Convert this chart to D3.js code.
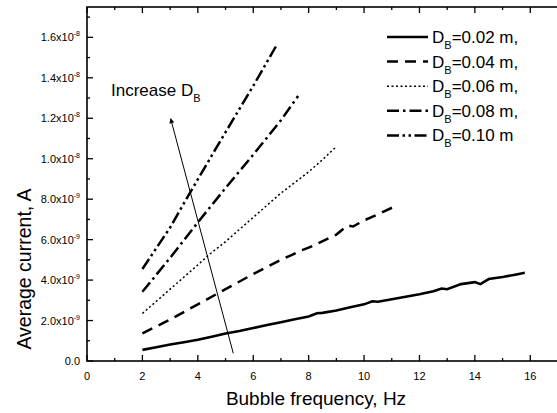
<!DOCTYPE html>
<html>
<head>
<meta charset="utf-8">
<script src="https://cdn.jsdelivr.net/npm/d3@7"></script>
<style>
  body { margin: 0; background: #fff; }
  text { font-family: "Liberation Sans", Arial, sans-serif; fill: #000; }
</style>
</head>
<body>
<svg id="chart"></svg>
<script>
// bubble frequency (Hz) and average current (A)
var labels = ["0.02 m,", "0.04 m,", "0.06 m,", "0.08 m,", "0.10 m"];

var freq1 = [2, 2.5, 3, 3.5, 4, 4.5, 5, 5.5, 6, 6.5, 7, 7.5, 8, 8.3, 8.5, 9, 9.5, 10, 10.3, 10.5, 11, 11.5, 12, 12.5, 12.8, 13, 13.5, 14, 14.2, 14.5, 15, 15.5, 15.8];
var curr1 = [0.55e-9, 0.68e-9, 0.82e-9, 0.93e-9, 1.05e-9, 1.2e-9, 1.36e-9, 1.48e-9, 1.63e-9, 1.78e-9, 1.92e-9, 2.06e-9, 2.2e-9, 2.36e-9, 2.38e-9, 2.5e-9, 2.66e-9, 2.8e-9, 2.95e-9, 2.93e-9, 3.05e-9, 3.18e-9, 3.3e-9, 3.45e-9, 3.58e-9, 3.55e-9, 3.8e-9, 3.9e-9, 3.8e-9, 4.05e-9, 4.15e-9, 4.28e-9, 4.36e-9];

var freq2 = [2, 3, 4, 5, 6, 7, 7.4, 7.7, 8, 9, 9.4, 9.6, 10, 10.5, 11.2];
var curr2 = [1.37e-9, 2.05e-9, 2.8e-9, 3.55e-9, 4.3e-9, 5.0e-9, 5.25e-9, 5.45e-9, 5.6e-9, 6.25e-9, 6.7e-9, 6.65e-9, 6.95e-9, 7.25e-9, 7.7e-9];

var freq3 = [2, 3, 4, 4.4, 5, 5.5, 6, 7, 8, 8.5, 9];
var curr3 = [2.35e-9, 3.55e-9, 4.75e-9, 5.25e-9, 5.9e-9, 6.5e-9, 7.1e-9, 8.3e-9, 9.35e-9, 9.95e-9, 10.6e-9];

var freq4 = [2, 3, 4, 5, 6, 7, 7.62];
var curr4 = [3.42e-9, 5.1e-9, 6.85e-9, 8.55e-9, 10.2e-9, 11.9e-9, 13.1e-9];

var freq5 = [2, 3, 3.7, 4.8, 6, 6.86];
var curr5 = [4.55e-9, 6.6e-9, 8.28e-9, 10.85e-9, 13.6e-9, 15.65e-9];

var xTicks = [0, 2, 4, 6, 8, 10, 12, 14, 16];
var yTicks = [0, 2e-9, 4e-9, 6e-9, 8e-9, 1.0e-8, 1.2e-8, 1.4e-8, 1.6e-8];

// arrow "Increase D_B" in data coordinates (tail, head)
var arrowFreq = [5.28, 3.02];
var arrowCurr = [0.38e-9, 1.198e-8];

var width = 557, height = 413;
var svg = d3.select("#chart").attr("width", width).attr("height", height);

var x = d3.scaleLinear().domain([0, 17]).range([87, 558]);
var y = d3.scaleLinear().domain([0, 1.75e-8]).range([361, 7]);

var series = [
    { f: freq1, c: curr1, dash: null, w: 2.6 },
    { f: freq2, c: curr2, dash: "11,7", w: 2.5 },
    { f: freq3, c: curr3, dash: "2,2.5", w: 1.5 },
    { f: freq4, c: curr4, dash: "12,4,2.5,4", w: 2.5 },
    { f: freq5, c: curr5, dash: "12,3.5,2.5,3.5,2.5,3.5", w: 2.5 }
];

var line = d3.line()
    .x(function (d) { return x(d[0]); })
    .y(function (d) { return y(d[1]); });

series.forEach(function (s) {
    var pts = s.f.map(function (f, i) { return [f, s.c[i]]; });
    svg.append("path")
        .attr("d", line(pts))
        .attr("fill", "none")
        .attr("stroke", "#000")
        .attr("stroke-width", s.w)
        .attr("stroke-dasharray", s.dash);
});

// frame with inward ticks
var frame = svg.append("g");
frame.append("rect")
    .attr("x", x(0)).attr("y", y(1.75e-8))
    .attr("width", x(17) - x(0)).attr("height", y(0) - y(1.75e-8))
    .attr("fill", "none").attr("stroke", "#000").attr("stroke-width", 1.6);

var xMinor = d3.range(0, 18, 1);
var yMinor = d3.range(0, 18).map(function (i) { return i * 1e-9; });

xMinor.forEach(function (v) {
    var len = v % 2 === 0 ? 6 : 3;
    frame.append("line").attr("x1", x(v)).attr("x2", x(v))
        .attr("y1", y(0)).attr("y2", y(0) - len)
        .attr("stroke", "#000").attr("stroke-width", 1.3);
    frame.append("line").attr("x1", x(v)).attr("x2", x(v))
        .attr("y1", y(1.75e-8)).attr("y2", y(1.75e-8) + len)
        .attr("stroke", "#000").attr("stroke-width", 1.3);
});
yMinor.forEach(function (v, i) {
    var len = i % 2 === 0 ? 6 : 3;
    frame.append("line").attr("x1", x(0)).attr("x2", x(0) + len)
        .attr("y1", y(v)).attr("y2", y(v))
        .attr("stroke", "#000").attr("stroke-width", 1.3);
});

// x tick labels
svg.append("g").selectAll("text")
    .data(xTicks)
    .join("text")
    .attr("x", function (d) { return x(d); })
    .attr("y", 380)
    .attr("text-anchor", "middle")
    .attr("font-size", 11)
    .text(function (d) { return d; });

// y tick labels, 1.6x10^-8 style
var yLab = svg.append("g").selectAll("text")
    .data(yTicks)
    .join("text")
    .attr("x", 80)
    .attr("y", function (d) { return y(d) + 4; })
    .attr("text-anchor", "end")
    .attr("font-size", 11);

yLab.each(function (d) {
    var t = d3.select(this);
    if (d === 0) { t.text("0.0"); return; }
    var e = Math.floor(Math.log10(d) + 1e-9);
    var m = (d / Math.pow(10, e)).toFixed(1);
    t.append("tspan").text(m + "x10");
    t.append("tspan").attr("font-size", 7).attr("dy", -5).text(e);
});

// axis titles
svg.append("text")
    .attr("x", 316).attr("y", 405)
    .attr("text-anchor", "middle")
    .attr("font-size", 19)
    .text("Bubble frequency, Hz");

svg.append("text")
    .attr("transform", "translate(31,269) rotate(-90)")
    .attr("text-anchor", "middle")
    .attr("font-size", 19.5)
    .text("Average current, A");

// arrow
svg.append("defs").append("marker")
    .attr("id", "head")
    .attr("viewBox", "0 0 10 10")
    .attr("refX", 9).attr("refY", 5)
    .attr("markerWidth", 10).attr("markerHeight", 5)
    .attr("markerUnits", "userSpaceOnUse")
    .attr("orient", "auto")
    .append("path").attr("d", "M0,0L10,5L0,10z").attr("fill", "#000");

svg.append("line")
    .attr("x1", x(arrowFreq[0])).attr("y1", y(arrowCurr[0]))
    .attr("x2", x(arrowFreq[1])).attr("y2", y(arrowCurr[1]))
    .attr("stroke", "#000").attr("stroke-width", 1)
    .attr("marker-end", "url(#head)");

var inc = svg.append("text")
    .attr("x", 111).attr("y", 96)
    .attr("font-size", 17);
inc.append("tspan").text("Increase D");
inc.append("tspan").attr("font-size", 11).attr("dy", 6).text("B");

// legend
var legend = svg.append("g");
series.forEach(function (s, i) {
    var cy = 37 + i * 24.6;
    legend.append("line")
        .attr("x1", 387).attr("x2", 428)
        .attr("y1", cy).attr("y2", cy)
        .attr("stroke", "#000")
        .attr("stroke-width", s.w)
        .attr("stroke-dasharray", s.dash);
    var t = legend.append("text")
        .attr("x", 432).attr("y", cy + 6)
        .attr("font-size", 17);
    t.append("tspan").text("D");
    t.append("tspan").attr("font-size", 11).attr("dy", 6).text("B");
    t.append("tspan").attr("dy", -6).text("=" + labels[i]);
});
</script>
</body>
</html>
